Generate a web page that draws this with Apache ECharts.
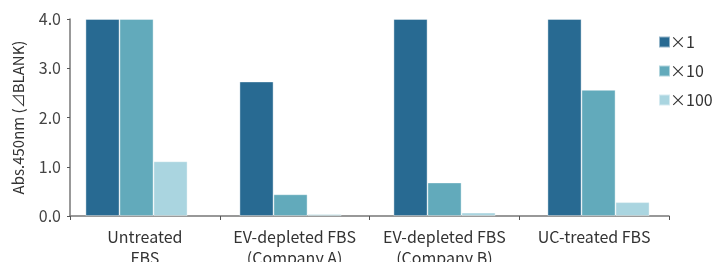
<!DOCTYPE html>
<html>
<head>
<meta charset="utf-8">
<script src="https://cdn.jsdelivr.net/npm/echarts@6/dist/echarts.min.js"></script>
<style>
  html, body { margin: 0; padding: 0; background: #fff; }
  #chart { width: 716px; height: 262px; }
</style>
</head>
<body>
<div id="chart"></div>
<script>
// categories and values
const categories = ['Untreated\nFBS', 'EV-depleted FBS\n(Company A)', 'EV-depleted FBS\n(Company B)', 'UC-treated FBS'];
const seriesNames = ['×1', '×10', '×100'];
const valuesX1 = [4.0, 2.73, 4.0, 4.0];
const valuesX10 = [4.0, 0.44, 0.68, 2.56];
const valuesX100 = [1.11, 0.04, 0.07, 0.28];
const yTicks = [0, 1, 2, 3, 4];

const colors = ['#286a92', '#62aabb', '#aad5e0'];
const font = '"Noto Sans CJK JP", "Noto Sans", sans-serif';

const chart = echarts.init(document.getElementById('chart'));

const barData = [valuesX1, valuesX10, valuesX100];

chart.setOption({
  animation: false,
  color: colors,
  textStyle: { fontFamily: font },
  legend: {
    orient: 'vertical',
    left: 653,
    top: 29,
    itemWidth: 11,
    itemHeight: 11,
    itemGap: 13,
    icon: 'rect',
    data: seriesNames,
    textStyle: { fontSize: 16, color: '#333', fontFamily: font, padding: [0, 0, 0, -5] }
  },
  grid: [
    // visible axes
    { left: 70, top: 19, width: 599, height: 197, outerBoundsMode: 'none' },
    // bars (slightly shifted like the original)
    { left: 59.5, top: 19, width: 616, height: 197, outerBoundsMode: 'none' }
  ],
  xAxis: [
    {
      gridIndex: 0,
      type: 'category',
      data: categories,
      axisLine: { lineStyle: { color: '#777', width: 1.5 } },
      axisTick: { show: true, length: 4, lineStyle: { color: '#555' } },
      axisLabel: { interval: 0, fontSize: 16, color: '#333', lineHeight: 21, margin: 10, fontFamily: font }
    },
    {
      gridIndex: 1,
      type: 'category',
      data: categories,
      show: false
    }
  ],
  yAxis: [
    {
      gridIndex: 0,
      type: 'value',
      min: yTicks[0],
      max: yTicks[yTicks.length - 1],
      interval: 1,
      name: 'Abs.450nm (⊿BLANK)',
      nameLocation: 'middle',
      nameGap: 44,
      nameTextStyle: { fontSize: 15, color: '#333', fontFamily: font },
      axisLine: { show: true, lineStyle: { color: '#777', width: 1.5 } },
      axisTick: { show: true, length: 3, lineStyle: { color: '#555' } },
      splitLine: { show: false },
      axisLabel: {
        fontSize: 16, color: '#444', margin: 9, fontFamily: font,
        formatter: v => v.toFixed(1)
      }
    },
    {
      gridIndex: 1,
      type: 'value',
      min: 0,
      max: 4,
      show: false,
      splitLine: { show: false }
    }
  ],
  series: seriesNames.map((name, i) => ({
    name: name,
    type: 'bar',
    xAxisIndex: 1,
    yAxisIndex: 1,
    data: barData[i],
    barWidth: 34,
    barGap: '0%',
    itemStyle: { color: colors[i], borderColor: 'rgba(255,255,255,0.5)', borderWidth: 0.8 }
  }))
});
</script>
</body>
</html>
